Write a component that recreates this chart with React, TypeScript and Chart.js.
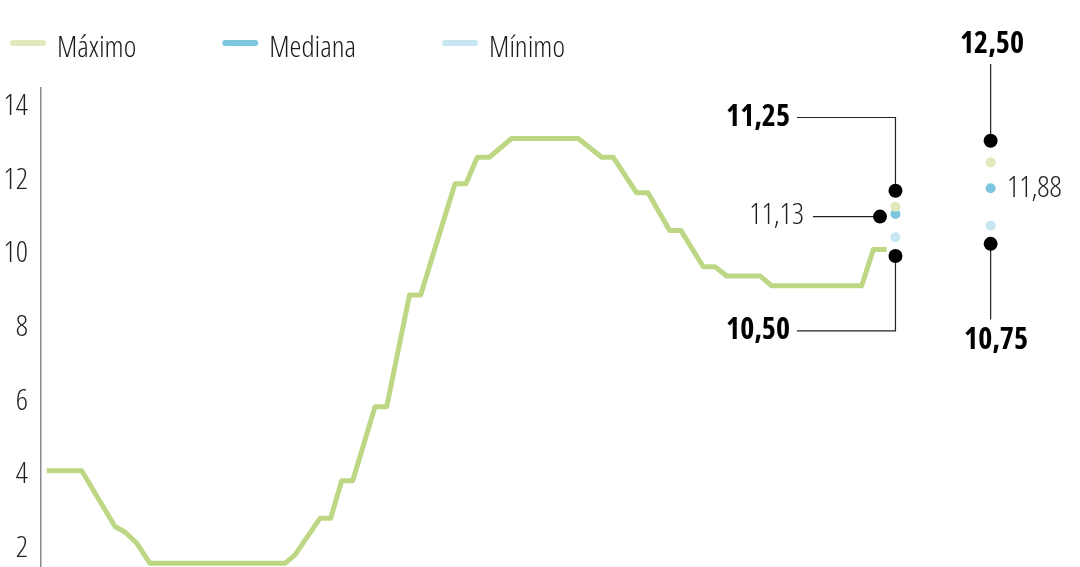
import React, { useEffect, useRef } from 'react';
import { Chart, registerables } from 'chart.js';

Chart.register(...registerables);

const FAMILY = '"Open Sans", "DejaVu Sans Condensed", sans-serif';

// Historical path: x = period index, y = rate (%)
const lineX = [0.55, 3.92, 7.12, 8.08, 9.21, 10.49, 23.48, 24.45, 26.85, 27.88, 28.94, 30.0, 32.15, 33.27, 35.47, 36.54, 38.59, 39.85, 40.9, 41.99, 43.15, 45.3, 51.71, 53.97, 55.08, 57.31, 58.42, 60.51, 61.6, 63.74, 64.87, 66.0, 69.2, 70.33, 78.99, 80.11, 81.39];
const lineY = [4.11, 4.11, 2.6, 2.45, 2.15, 1.6, 1.6, 1.83, 2.82, 2.82, 3.84, 3.84, 5.85, 5.85, 8.88, 8.88, 10.76, 11.9, 11.9, 12.62, 12.62, 13.13, 13.13, 12.62, 12.62, 11.66, 11.66, 10.63, 10.63, 9.65, 9.65, 9.4, 9.4, 9.13, 9.13, 10.12, 10.12];

// Expectation columns
const periodX = [82.24, 91.4];
const maximo = [11.28, 12.48];
const mediana = [11.08, 11.78];
const minimo = [10.45, 10.76];

// Callout markers
const markerX = [82.24, 80.75, 82.24, 91.4, 91.4];
const markerY = [11.71, 11.01, 9.94, 13.07, 10.27];

// Leader lines
const leaderX = [
  [82.24, 82.24, 72.76],
  [80.75, 74.3],
  [82.24, 82.24, 72.76],
  [91.4, 91.4],
  [91.4, 91.4],
];
const leaderY = [
  [11.71, 13.7, 13.7],
  [11.01, 11.01],
  [9.94, 7.91, 7.91],
  [13.07, 15.15],
  [10.27, 8.22],
];

// Callout labels
const labelText = ['11,25', '11,13', '10,50', '12,50', '11,88', '10,75'];
const labelX = [72.09, 73.44, 72.09, 91.53, 92.97, 91.92];
const labelY = [13.69, 11.03, 7.91, 15.67, 11.77, 7.66];
const labelAlign = ['right', 'right', 'right', 'center', 'left', 'center'];
const labelBold = [true, false, true, true, false, true];

const yTicks = [2, 4, 6, 8, 10, 12, 14];
const legendLabels = ['Máximo', 'Mediana', 'Mínimo'];
const colMax = '#dfe9bd';
const colMed = '#7cc6df';
const colMin = '#c8e6f1';
const colLine = '#bdd785';

const setFont = (ctx: any, weight: string, size: number) => {
  ctx.font = `${weight} ${size}px ${FAMILY}`;
  try {
    ctx.fontStretch = 'condensed';
  } catch (e) {
    /* ignore */
  }
};

const legendPlugin = {
  id: 'customLegend',
  afterDraw(chart: any) {
    const ctx = chart.ctx;
    ctx.save();
    setFont(ctx, '300', 30);
    let x = 10;
    const items = chart.data.datasets.filter((d: any) => legendLabels.includes(d.label));
    items.forEach((d: any) => {
      ctx.strokeStyle = d.pointBackgroundColor;
      ctx.lineWidth = 6;
      ctx.lineCap = 'round';
      ctx.beginPath();
      ctx.moveTo(x + 3, 43);
      ctx.lineTo(x + 33, 43);
      ctx.stroke();
      ctx.fillStyle = '#1a1a1a';
      ctx.textAlign = 'left';
      ctx.textBaseline = 'alphabetic';
      ctx.fillText(d.label, x + 47, 57);
      x = x + 47 + ctx.measureText(d.label).width + 86;
    });
    ctx.restore();
  },
};

const labelPlugin = {
  id: 'calloutLabels',
  afterDatasetsDraw(chart: any) {
    const ctx = chart.ctx;
    const xs = chart.scales.x;
    const ys = chart.scales.y;
    ctx.save();
    labelText.forEach((t, i) => {
      setFont(ctx, labelBold[i] ? '700' : '300', 30);
      ctx.fillStyle = labelBold[i] ? '#000' : '#222';
      ctx.textAlign = labelAlign[i];
      ctx.textBaseline = 'middle';
      ctx.fillText(t, xs.getPixelForValue(labelX[i]), ys.getPixelForValue(labelY[i]));
    });
    ctx.restore();
  },
};

export default function App() {
  const ref = useRef<HTMLCanvasElement>(null);
  useEffect(() => {
    document.body.style.margin = '0';
    const pts = (xs: number[], ys: number[]) => xs.map((x, i) => ({ x, y: ys[i] }));
    const dotSet = (label: string, vals: number[], color: string) => ({
      label,
      data: pts(periodX, vals),
      showLine: false,
      pointRadius: 5,
      pointBorderWidth: 0,
      pointBackgroundColor: color,
      borderColor: color,
      order: 2,
      clip: false,
    });
    const leaders = leaderX.map((xs, i) => ({
      label: 'leader' + i,
      data: pts(xs, leaderY[i]),
      borderColor: '#222',
      borderWidth: 1.2,
      pointRadius: 0,
      fill: false,
      order: 4,
      clip: false,
    }));
    const chart = new Chart(ref.current as HTMLCanvasElement, {
      type: 'line',
      data: {
        datasets: [
          {
            label: 'Histórico',
            data: pts(lineX, lineY),
            borderColor: colLine,
            borderWidth: 5,
            pointRadius: 0,
            fill: false,
            order: 5,
            borderJoinStyle: 'round',
          } as any,
          ...leaders,
          dotSet('Máximo', maximo, colMax),
          dotSet('Mediana', mediana, colMed),
          dotSet('Mínimo', minimo, colMin),
          {
            label: 'marcadores',
            data: pts(markerX, markerY),
            showLine: false,
            pointRadius: 7,
            pointBorderWidth: 0,
            pointBackgroundColor: '#000',
            order: 1,
            clip: false,
          },
        ],
      },
      options: {
        responsive: false,
        animation: false,
        layout: { autoPadding: false, padding: { top: 88, right: 0, bottom: 0, left: 0 } },
        plugins: { legend: { display: false }, tooltip: { enabled: false } },
        scales: {
          x: { type: 'linear', min: 0, max: 100, display: false },
          y: {
            type: 'linear',
            min: 1.5,
            max: 14.5,
            afterBuildTicks: (s: any) => {
              s.ticks = yTicks.map((v) => ({ value: v }));
            },
            afterFit: (s: any) => {
              s.width = 41;
              s.paddingTop = 0;
              s.paddingBottom = 0;
            },
            grid: { display: false, drawTicks: false },
            border: { display: true, color: '#8a8a8a', width: 1.5 },
            ticks: {
              padding: 13,
              autoSkip: false,
              color: '#222',
              font: { family: FAMILY, size: 30, weight: '300 condensed' },
              callback: (v: any) => String(v),
            },
          },
        },
      } as any,
      plugins: [legendPlugin, labelPlugin],
    });
    return () => chart.destroy();
  }, []);
  return (
    <div style={{ width: 1080, height: 567 }}>
      <canvas ref={ref} width={1080} height={567} style={{ display: 'block' }} />
    </div>
  );
}
